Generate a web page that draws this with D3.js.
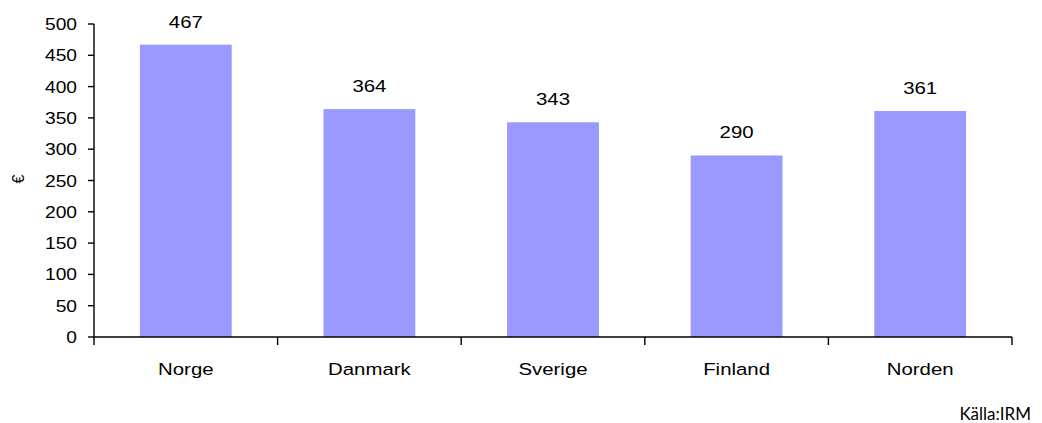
<!DOCTYPE html>
<html>
<head>
<meta charset="utf-8">
<script src="https://cdn.jsdelivr.net/npm/d3@7"></script>
<style>
	body { margin:0; background:#ffffff; }
	svg text { font-family: "Liberation Sans", Arial, sans-serif; fill:#000; }
</style>
</head>
<body>
<div id="chart"></div>
<script>
var categories = ["Norge","Danmark","Sverige","Finland","Norden"];
var values = [467,364,343,290,361];
var yTicks = [0,50,100,150,200,250,300,350,400,450,500];
var yLabel = "€";
var source = "Källa:IRM";

var W = 1042, H = 423;
var plotLeft = 94, plotRight = 1012, plotTop = 24, plotBottom = 337;
var stretch = 1.2; // text in the picture is a little wide

var svg = d3.select("#chart").append("svg")
				.attr("width", W).attr("height", H);

var x = d3.scaleBand().domain(categories).range([plotLeft, plotRight]).paddingInner(0.5).paddingOuter(0.25);
var y = d3.scaleLinear().domain([0, 500]).range([plotBottom, plotTop]);

// bars
svg.selectAll(".bar").data(values).enter().append("rect")
	.attr("class","bar")
	.attr("x", function(d,i){ return x(categories[i]); })
	.attr("y", function(d){ return y(d); })
	.attr("width", x.bandwidth())
	.attr("height", function(d){ return y(0) - y(d); })
	.style("fill","#9999FF");

// value labels
svg.selectAll(".val").data(values).enter().append("text")
	.attr("class","val")
	.attr("text-anchor","middle")
	.attr("font-size", 17)
	.attr("transform", function(d,i){
		return "translate(" + (x(categories[i]) + x.bandwidth()/2) + "," + (y(d) - 17) + ") scale(" + stretch + ",1)";
	})
	.text(function(d){ return d; });

// y axis
svg.append("line").attr("x1", plotLeft).attr("x2", plotLeft).attr("y1", y(500)).attr("y2", y(0))
	.style("stroke","#000").style("stroke-width",1.4);
svg.selectAll(".ytick").data(yTicks).enter().append("line")
	.attr("x1", plotLeft - 6).attr("x2", plotLeft)
	.attr("y1", function(d){ return y(d); }).attr("y2", function(d){ return y(d); })
	.style("stroke","#000").style("stroke-width",1.4);
svg.selectAll(".ylab").data(yTicks).enter().append("text")
	.attr("text-anchor","end")
	.attr("font-size", 16)
	.attr("transform", function(d){ return "translate(" + (plotLeft - 17) + "," + (y(d) + 6) + ") scale(" + stretch + ",1)"; })
	.text(function(d){ return d; });

// x axis
svg.append("line").attr("x1", plotLeft).attr("x2", plotRight).attr("y1", y(0)).attr("y2", y(0))
	.style("stroke","#000").style("stroke-width",1.4);
var xt = categories.map(function(c){ return x(c) - x.step()*0.25; }).concat([plotRight]);
svg.selectAll(".xtick").data(xt).enter().append("line")
	.attr("x1", function(d){ return d; }).attr("x2", function(d){ return d; })
	.attr("y1", y(0)).attr("y2", y(0) + 8)
	.style("stroke","#000").style("stroke-width",1.4);
svg.selectAll(".xlab").data(categories).enter().append("text")
	.attr("text-anchor","middle")
	.attr("font-size", 17)
	.attr("transform", function(d){ return "translate(" + (x(d) + x.bandwidth()/2) + ",375) scale(" + stretch + ",1)"; })
	.text(function(d){ return d; });

// y label, turned
svg.append("text")
	.attr("text-anchor","middle")
	.attr("font-size", 16)
	.attr("transform","translate(24,179) rotate(-90)")
	.text(yLabel);

// source
svg.append("text")
	.attr("text-anchor","end")
	.attr("font-size", 17)
	.style("font-family","Lato, 'Open Sans', sans-serif")
	.attr("transform","translate(1031,420)")
	.text(source);
</script>
</body>
</html>
